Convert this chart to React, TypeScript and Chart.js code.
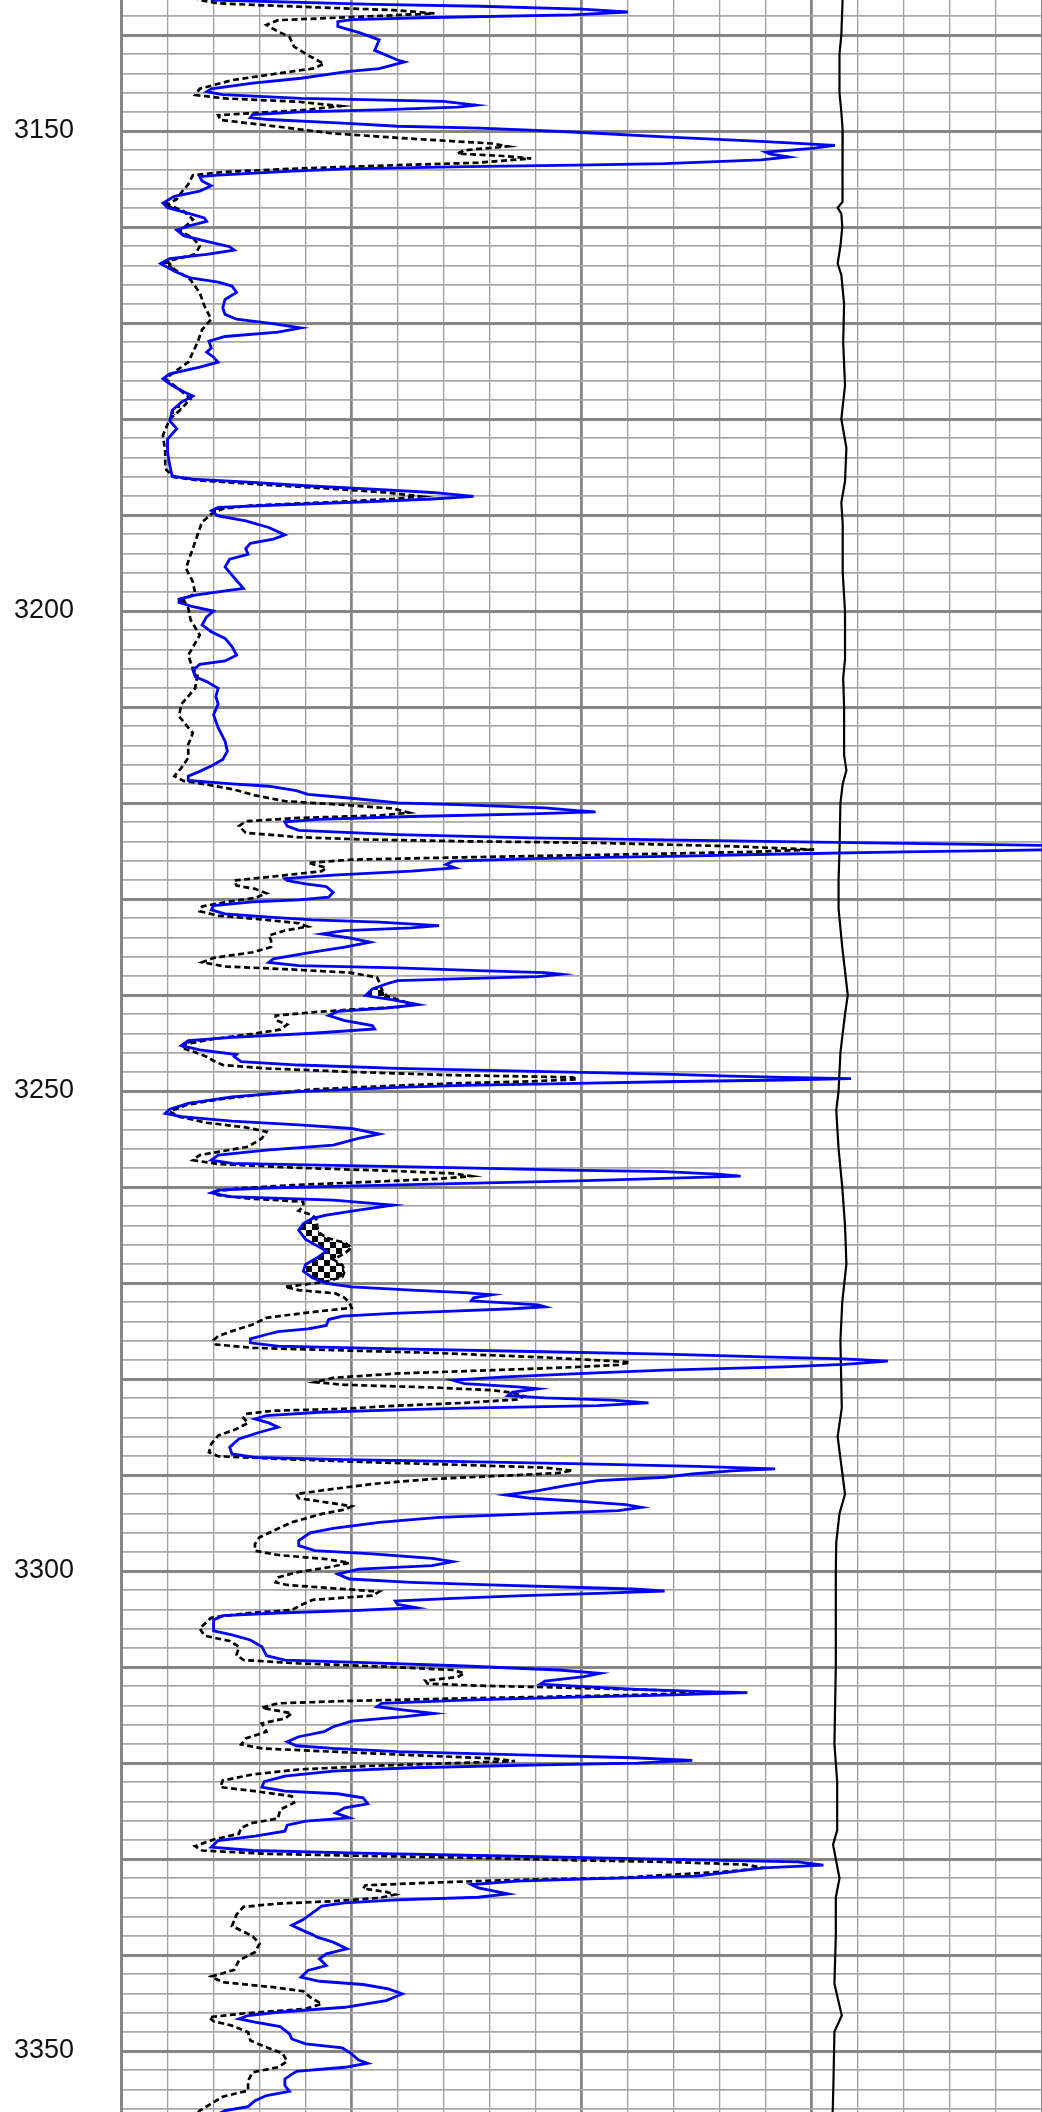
import React, { useEffect, useRef } from 'react';
import { Chart, registerables } from 'chart.js';

Chart.register(...registerables);

// ---- axis ranges / labels ----
const DEPTH_TOP = 3136.35;
const DEPTH_BOTTOM = 3356.35;
const DEPTH_LABELS = [3150, 3200, 3250, 3300, 3350];
const TRACK_MIN = 0;
const TRACK_MAX = 20;

// ---- blue solid curve ----
const blueDepth = [
  3136.0, 3136.35, 3136.8, 3137.0, 3137.3, 3137.6, 3137.9, 3138.2, 3138.4, 3138.6, 3139.1, 3139.8, 3140.5, 3141.6, 3142.6, 3142.8,
  3143.5, 3143.8, 3144.5, 3145.0, 3145.6, 3145.9, 3146.2, 3146.6, 3146.7, 3146.9, 3147.3, 3147.5, 3147.8, 3148.0, 3148.3, 3148.6,
  3148.8, 3149.2, 3149.5, 3149.7, 3150.1, 3150.6, 3151.1, 3151.5, 3151.8, 3152.2, 3152.4, 3152.7, 3153.0, 3153.4, 3153.55, 3153.7,
  3153.95, 3154.2, 3154.6, 3154.75, 3155.2, 3155.7, 3156.25, 3156.8, 3157.5, 3158.0, 3158.5, 3159.05, 3159.4, 3159.9, 3160.3, 3160.9,
  3161.5, 3162.05, 3162.4, 3162.85, 3163.3, 3163.8, 3164.6, 3165.3, 3165.75, 3166.15, 3166.8, 3167.55, 3168.4, 3169.1, 3169.6, 3170.0,
  3170.5, 3170.95, 3171.4, 3171.9, 3172.6, 3173.04, 3173.56, 3174.08, 3174.6, 3175.3, 3175.8, 3176.5, 3177.15, 3177.6, 3178.25, 3179.1,
  3180.2, 3181.0, 3182.1, 3183.45, 3184.85, 3185.95, 3186.25, 3186.6, 3186.95, 3187.3, 3187.65, 3188.05, 3188.33, 3188.6, 3188.9, 3189.2,
  3189.55, 3190.1, 3190.6, 3191.3, 3192.07, 3192.5, 3192.95, 3193.5, 3194.1, 3194.6, 3195.4, 3196.25, 3197.1, 3197.65, 3198.0, 3198.35,
  3198.75, 3199.1, 3199.55, 3200.0, 3200.6, 3201.45, 3202.15, 3202.85, 3203.7, 3204.6, 3205.2, 3205.55, 3206.15, 3206.85, 3207.35, 3208.05,
  3208.9, 3209.7, 3210.8, 3212.15, 3213.55, 3214.6, 3215.45, 3216.15, 3216.7, 3217.2, 3217.65, 3218.0, 3218.25, 3218.7, 3219.1, 3219.5,
  3219.98, 3220.2, 3220.5, 3220.8, 3220.92, 3221.13, 3221.4, 3221.7, 3221.96, 3222.4, 3222.85, 3223.3, 3223.63, 3223.84, 3224.05, 3224.25,
  3224.45, 3224.6, 3224.8, 3224.95, 3225.08, 3225.36, 3225.54, 3225.78, 3226.06, 3226.4, 3226.75, 3227.1, 3227.5, 3227.87, 3228.07, 3228.42,
  3228.7, 3229.3, 3229.8, 3230.08, 3230.3, 3230.68, 3231.13, 3231.55, 3231.9, 3232.17, 3232.4, 3232.76, 3233.0, 3233.28, 3233.63, 3234.05,
  3234.5, 3235.0, 3235.54, 3236.24, 3236.6, 3236.93, 3237.17, 3237.45, 3237.66, 3237.83, 3238.08, 3238.28, 3238.5, 3238.85, 3239.36, 3240.06,
  3240.5, 3241.0, 3241.35, 3241.7, 3242.14, 3242.66, 3243.18, 3243.53, 3243.98, 3244.4, 3244.75, 3245.27, 3245.72, 3246.2, 3246.42, 3246.94,
  3247.29, 3247.64, 3247.98, 3248.23, 3248.44, 3248.57, 3248.71, 3248.85, 3249.03, 3249.2, 3249.4, 3249.62, 3250.07, 3250.6, 3251.28, 3251.9,
  3252.33, 3252.67, 3253.13, 3253.54, 3253.9, 3254.48, 3254.93, 3255.63, 3256.15, 3256.67, 3257.2, 3257.54, 3257.75, 3258.0, 3258.23, 3258.4,
  3258.65, 3258.86, 3259.1, 3259.35, 3259.62, 3259.9, 3260.1, 3260.32, 3260.6, 3261.0, 3261.36, 3261.88, 3262.4, 3262.92, 3263.27, 3263.8,
  3264.5, 3265.45, 3265.98, 3266.67, 3267.37, 3268.06, 3268.76, 3269.45, 3270.04, 3270.39, 3270.74, 3271.0, 3271.22, 3271.54, 3271.85, 3272.06,
  3272.27, 3272.47, 3272.68, 3272.93, 3273.17, 3273.45, 3273.8, 3274.42, 3274.77, 3275.05, 3275.36, 3275.81, 3276.23, 3276.57, 3276.85, 3277.13,
  3277.41, 3277.69, 3277.9, 3278.14, 3278.48, 3278.73, 3279.08, 3279.42, 3279.77, 3280.12, 3280.47, 3280.81, 3281.02, 3281.37, 3281.72, 3281.96,
  3282.2, 3282.48, 3282.76, 3283.04, 3283.21, 3283.46, 3283.8, 3284.15, 3284.57, 3285.02, 3285.54, 3286.24, 3287.1, 3287.8, 3288.15, 3288.39,
  3288.6, 3288.84, 3289.09, 3289.36, 3289.57, 3289.89, 3290.23, 3290.58, 3291.1, 3291.62, 3292.07, 3292.42, 3292.77, 3293.08, 3293.36, 3293.71,
  3294.05, 3294.4, 3294.92, 3295.55, 3296.03, 3296.83, 3297.35, 3297.88, 3298.22, 3298.68, 3299.02, 3299.44, 3299.79, 3300.31, 3300.83, 3301.18,
  3301.45, 3301.66, 3301.87, 3302.08, 3302.32, 3302.56, 3302.84, 3303.12, 3303.47, 3303.81, 3304.09, 3304.37, 3304.65, 3305.1, 3306.24, 3306.66,
  3307.18, 3307.88, 3308.82, 3309.27, 3309.55, 3309.89, 3310.31, 3310.66, 3311.0, 3311.46, 3311.77, 3312.05, 3312.33, 3312.57, 3312.67, 3312.92,
  3313.16, 3313.44, 3313.78, 3314.13, 3314.48, 3314.83, 3315.17, 3315.63, 3316.22, 3316.74, 3317.26, 3317.78, 3318.2, 3318.48, 3318.82, 3319.17,
  3319.45, 3319.73, 3320.01, 3320.22, 3320.49, 3320.84, 3321.36, 3321.95, 3322.51, 3322.93, 3323.2, 3323.62, 3324.25, 3324.66, 3325.19, 3325.71,
  3326.05, 3326.47, 3327.1, 3327.62, 3328.07, 3328.76, 3329.11, 3329.39, 3329.63, 3329.88, 3330.08, 3330.29, 3330.64, 3330.92, 3331.34, 3331.79,
  3332.03, 3332.31, 3332.66, 3333.0, 3333.63, 3333.98, 3334.25, 3334.57, 3334.91, 3335.61, 3336.3, 3336.9, 3337.35, 3337.87, 3338.14, 3338.66,
  3339.36, 3339.88, 3340.4, 3341.09, 3341.61, 3342.31, 3342.73, 3343.07, 3343.53, 3344.05, 3344.74, 3345.44, 3345.96, 3346.3, 3346.65, 3347.0,
  3347.45, 3348.22, 3348.74, 3349.26, 3349.68, 3350.3, 3350.93, 3351.27, 3351.69, 3352.11, 3352.9, 3353.6, 3354.19, 3354.64, 3355.17, 3355.79,
  3356.21, 3356.8,
];
const blueValue = [
  1.8, 2.0, 5.5, 7.8, 10.0, 11.0, 9.8, 6.5, 5.0, 4.7, 4.7, 5.2, 5.6, 5.5, 6.0, 6.15,
  5.6, 4.9, 3.9, 2.85, 1.95, 1.85, 2.2, 3.9, 5.0, 7.0, 7.7, 7.3, 5.6, 3.9, 2.85, 2.8,
  3.2, 4.9, 6.0, 7.8, 9.8, 11.8, 14.0, 15.5, 15.0, 14.0, 14.1, 14.5, 13.9, 11.8, 9.9, 7.5,
  4.9, 3.6, 2.1, 1.7, 1.75, 1.95, 1.7, 1.15, 0.9, 1.0, 1.4, 1.8, 1.85, 1.45, 1.2, 1.35,
  1.85, 2.35, 2.45, 1.85, 1.05, 0.85, 1.15, 1.5, 2.1, 2.4, 2.5, 2.25, 2.2, 2.25, 2.5, 3.2,
  3.9, 3.4, 2.25, 1.9, 1.95, 1.85, 2.0, 2.1, 1.7, 1.05, 0.9, 1.1, 1.35, 1.55, 1.3, 1.1,
  1.05, 1.2, 1.0, 1.0, 1.05, 1.1, 1.55, 2.85, 4.0, 5.45, 6.75, 7.65, 6.75, 5.45, 3.7, 2.1,
  1.95, 2.1, 2.7, 3.2, 3.55, 3.3, 2.8, 2.7, 2.75, 2.35, 2.25, 2.4, 2.55, 2.65, 2.1, 1.6,
  1.25, 1.25, 1.55, 2.0, 1.85, 1.75, 1.95, 2.25, 2.4, 2.5, 2.25, 1.7, 1.55, 1.6, 1.85, 2.1,
  2.05, 2.1, 2.0, 2.1, 2.25, 2.3, 2.2, 1.95, 1.7, 1.45, 1.45, 2.4, 3.2, 3.8, 4.05, 5.0,
  6.0, 7.45, 9.2, 9.9, 10.3, 8.9, 6.3, 4.3, 3.55, 3.6, 3.85, 6.0, 8.9, 11.8, 14.7, 17.85,
  20.5, 21.5, 21.0, 19.0, 17.0, 13.8, 12.2, 8.9, 7.2, 7.05, 7.25, 6.3, 4.6, 3.55, 3.6, 4.0,
  4.45, 4.6, 4.5, 3.85, 2.85, 2.0, 1.95, 2.25, 3.3, 4.15, 5.6, 6.9, 6.3, 4.85, 4.35, 4.95,
  5.4, 4.85, 4.15, 3.3, 3.2, 3.85, 6.0, 7.75, 9.2, 9.55, 9.05, 7.45, 6.0, 5.75, 5.45, 5.3,
  5.9, 6.45, 5.75, 4.7, 4.5, 4.85, 5.45, 5.5, 4.15, 2.4, 1.45, 1.3, 1.7, 2.5, 2.45, 2.6,
  3.85, 6.0, 9.2, 11.8, 13.25, 14.4, 15.85, 14.4, 11.8, 9.9, 7.45, 6.0, 3.85, 2.4, 1.45, 1.05,
  0.95, 1.3, 2.4, 3.95, 5.0, 5.6, 5.15, 4.6, 3.15, 2.1, 1.95, 2.4, 4.6, 7.45, 9.65, 11.8,
  12.95, 13.45, 11.8, 9.9, 7.45, 4.85, 3.15, 2.1, 1.95, 2.35, 4.6, 5.9, 5.15, 4.45, 4.15, 3.95,
  3.85, 4.0, 4.2, 4.45, 4.25, 4.0, 3.95, 4.15, 4.45, 5.0, 6.3, 7.45, 8.05, 7.65, 7.6, 8.35,
  9.05, 9.2, 8.5, 7.2, 5.9, 4.8, 4.5, 4.45, 4.05, 3.4, 3.15, 2.8, 2.8, 3.4, 6.0, 8.9,
  11.8, 13.95, 15.7, 16.65, 15.7, 14.4, 11.8, 10.05, 8.35, 7.2, 7.45, 8.6, 9.05, 8.5, 8.4, 9.2,
  10.65, 11.45, 10.35, 7.45, 6.0, 4.3, 3.15, 2.9, 3.2, 3.4, 3.0, 2.55, 2.35, 2.4, 2.9, 4.85,
  7.45, 10.05, 12.5, 14.2, 13.25, 12.4, 11.8, 10.35, 9.65, 9.05, 8.35, 8.9, 10.05, 10.95, 11.3, 10.8,
  8.9, 6.9, 5.6, 4.6, 4.1, 3.85, 3.85, 4.2, 5.45, 6.75, 7.2, 6.75, 5.15, 4.7, 4.95, 6.3,
  8.0, 9.6, 11.1, 11.8, 10.35, 8.75, 7.2, 5.95, 6.0, 6.4, 5.15, 3.4, 2.2, 2.0, 2.0, 2.4,
  2.8, 3.05, 3.15, 3.55, 5.3, 7.45, 9.5, 10.4, 10.05, 9.2, 9.1, 10.05, 11.2, 12.65, 13.6, 11.8,
  9.65, 7.45, 5.65, 5.55, 6.15, 6.8, 6.15, 5.0, 4.6, 4.4, 3.85, 3.6, 3.8, 4.6, 6.0, 8.9,
  11.1, 12.4, 11.2, 8.9, 6.3, 4.6, 3.55, 3.1, 3.05, 3.55, 4.7, 5.25, 5.35, 4.85, 4.65, 4.95,
  4.0, 3.6, 3.55, 2.9, 2.1, 1.95, 2.85, 5.15, 7.75, 10.35, 12.5, 14.7, 15.25, 13.95, 13.25, 12.5,
  10.35, 8.6, 7.6, 7.75, 8.4, 7.75, 6.0, 4.85, 4.35, 4.15, 3.95, 3.7, 3.9, 4.15, 4.25, 4.6,
  4.9, 4.45, 4.3, 4.45, 4.05, 3.9, 4.3, 5.25, 5.8, 6.1, 5.75, 4.85, 3.4, 2.75, 2.55, 2.9,
  3.45, 3.65, 3.7, 4.0, 4.8, 5.0, 5.15, 5.35, 4.85, 3.8, 3.55, 3.55, 3.65, 3.15, 2.9, 2.75,
  2.25, 2.0,
];

// ---- black dashed curve ----
const dashDepth = [
  3136.0, 3136.35, 3136.7, 3137.05, 3137.4, 3137.75, 3138.1, 3138.45, 3138.95, 3139.5, 3140.2, 3141.2, 3142.1, 3143.0, 3143.5, 3144.0,
  3144.7, 3145.6, 3146.25, 3146.6, 3146.95, 3147.4, 3147.8, 3148.35, 3148.85, 3149.4, 3150.25, 3150.8, 3151.3, 3151.6, 3152.0, 3152.35,
  3152.6, 3152.85, 3153.3, 3153.55, 3153.9, 3154.25, 3154.6, 3155.55, 3156.4, 3157.1, 3157.65, 3158.35, 3159.2, 3159.9, 3160.4, 3161.1,
  3162.0, 3162.85, 3163.55, 3164.4, 3165.5, 3166.85, 3168.2, 3169.6, 3170.7, 3172.05, 3173.04, 3174.08, 3175.1, 3175.8, 3176.7, 3177.9,
  3178.95, 3180.0, 3181.7, 3183.45, 3185.2, 3186.05, 3186.4, 3186.85, 3187.3, 3187.65, 3188.05, 3188.33, 3188.65, 3189.0, 3189.35, 3189.9,
  3190.75, 3191.4, 3192.8, 3194.15, 3195.55, 3196.95, 3198.15, 3198.85, 3199.7, 3200.9, 3202.5, 3203.35, 3204.6, 3206.0, 3206.7, 3208.05,
  3209.7, 3210.95, 3212.15, 3212.7, 3213.9, 3215.3, 3216.33, 3217.2, 3217.7, 3218.07, 3218.6, 3219.2, 3219.8, 3220.2, 3220.57, 3221.0,
  3221.3, 3221.55, 3221.9, 3222.4, 3223.1, 3223.56, 3223.8, 3223.98, 3224.15, 3224.5, 3224.85, 3225.1, 3225.36, 3225.65, 3225.9, 3226.23,
  3226.75, 3227.1, 3227.6, 3228.07, 3228.6, 3228.94, 3229.4, 3229.88, 3230.33, 3230.78, 3231.27, 3231.72, 3232.17, 3232.52, 3232.87, 3233.28,
  3233.8, 3234.32, 3235.0, 3235.54, 3236.13, 3236.58, 3237.03, 3237.3, 3237.66, 3238.15, 3238.67, 3239.36, 3240.06, 3240.4, 3240.93, 3241.27,
  3241.5, 3241.8, 3242.14, 3242.6, 3243.08, 3243.6, 3244.05, 3244.57, 3245.1, 3245.5, 3245.96, 3246.42, 3246.84, 3247.29, 3247.64, 3247.98,
  3248.33, 3248.57, 3248.78, 3248.99, 3249.2, 3249.48, 3249.83, 3250.31, 3250.87, 3251.46, 3252.15, 3252.67, 3253.3, 3253.79, 3254.24, 3254.93,
  3255.8, 3256.67, 3257.2, 3257.6, 3258.0, 3258.34, 3258.58, 3258.86, 3259.14, 3259.45, 3259.8, 3260.14, 3260.49, 3260.84, 3261.19, 3261.53,
  3262.05, 3262.47, 3262.92, 3263.45, 3264.14, 3264.76, 3265.28, 3265.8, 3266.32, 3266.91, 3267.54, 3268.13, 3268.76, 3269.35, 3269.8, 3270.15,
  3270.39, 3270.74, 3271.08, 3271.54, 3272.06, 3272.58, 3273.1, 3273.62, 3274.32, 3275.01, 3275.53, 3275.95, 3276.4, 3276.75, 3276.99, 3277.27,
  3277.69, 3277.96, 3278.24, 3278.52, 3278.8, 3279.08, 3279.42, 3279.87, 3280.33, 3280.6, 3280.88, 3281.16, 3281.44, 3281.79, 3282.13, 3282.48,
  3282.83, 3283.1, 3283.3, 3283.63, 3284.08, 3284.57, 3285.2, 3285.89, 3286.76, 3287.63, 3288.04, 3288.32, 3288.67, 3288.95, 3289.23, 3289.54,
  3289.78, 3290.06, 3290.41, 3290.93, 3291.45, 3291.97, 3292.42, 3292.84, 3293.26, 3293.6, 3294.05, 3294.92, 3295.69, 3296.49, 3297.18, 3297.88,
  3298.33, 3298.75, 3299.16, 3299.61, 3300.14, 3300.66, 3301.18, 3301.45, 3301.8, 3302.14, 3302.56, 3303.01, 3303.53, 3304.06, 3304.4, 3304.86,
  3305.97, 3306.73, 3307.29, 3307.88, 3308.75, 3309.27, 3309.62, 3309.96, 3310.31, 3310.66, 3311.04, 3311.42, 3311.73, 3311.94, 3312.15, 3312.43,
  3312.74, 3312.99, 3313.26, 3313.54, 3313.78, 3314.24, 3314.83, 3315.35, 3315.87, 3316.74, 3317.43, 3318.06, 3318.48, 3318.82, 3319.17, 3319.52,
  3319.8, 3320.01, 3320.32, 3320.67, 3321.19, 3321.82, 3322.51, 3322.93, 3323.45, 3324.14, 3324.84, 3325.78, 3326.23, 3326.75, 3327.37, 3327.97,
  3328.66, 3329.11, 3329.46, 3329.67, 3329.88, 3330.15, 3330.29, 3330.57, 3330.92, 3331.27, 3331.68, 3331.96, 3332.13, 3332.38, 3332.73, 3333.07,
  3333.42, 3333.7, 3334.05, 3334.39, 3334.64, 3334.98, 3335.78, 3336.98, 3338.04, 3338.83, 3339.7, 3340.57, 3341.54, 3342.24, 3342.83, 3343.35,
  3343.77, 3344.39, 3345.09, 3345.61, 3346.06, 3346.48, 3346.9, 3347.35, 3348.04, 3348.91, 3349.61, 3350.23, 3351.07, 3351.69, 3352.21, 3353.08,
  3354.12, 3354.75, 3355.34, 3356.21, 3356.8,
];
const dashValue = [
  1.55, 1.7, 2.1, 3.85, 5.9, 6.8, 5.15, 3.4, 3.15, 3.35, 3.65, 3.75, 4.05, 4.4, 4.15, 3.4,
  2.4, 1.7, 1.6, 2.25, 3.85, 4.75, 4.0, 2.1, 2.15, 3.15, 4.6, 6.3, 8.05, 8.4, 7.45, 7.3,
  8.3, 8.9, 7.75, 6.0, 3.85, 2.25, 1.55, 1.45, 1.3, 1.2, 1.0, 1.35, 1.55, 1.4, 1.25, 1.55,
  1.7, 1.6, 1.0, 1.15, 1.5, 1.7, 1.8, 1.95, 1.75, 1.65, 1.55, 1.45, 1.15, 0.95, 1.2, 1.5,
  1.3, 1.05, 0.9, 0.95, 0.95, 1.15, 1.7, 3.15, 4.7, 5.75, 6.5, 5.9, 4.6, 2.85, 2.2, 1.95,
  1.75, 1.7, 1.6, 1.5, 1.4, 1.55, 1.6, 1.35, 1.45, 1.5, 1.7, 1.6, 1.45, 1.55, 1.65, 1.6,
  1.3, 1.25, 1.45, 1.55, 1.45, 1.45, 1.3, 1.15, 1.35, 1.85, 2.45, 2.9, 3.55, 4.85, 5.9, 6.25,
  5.6, 3.85, 2.7, 2.55, 2.7, 3.85, 5.3, 7.45, 10.35, 13.25, 15.05, 13.55, 10.8, 7.45, 5.0, 4.05,
  4.45, 4.35, 3.4, 2.45, 2.5, 2.9, 3.15, 2.9, 2.25, 1.75, 1.7, 2.1, 3.15, 3.85, 4.05, 3.55,
  3.2, 3.25, 3.25, 2.85, 2.0, 1.75, 2.25, 3.55, 4.95, 5.55, 5.6, 5.65, 5.75, 5.95, 6.3, 6.0,
  5.0, 4.15, 3.35, 3.35, 3.6, 3.45, 2.85, 2.0, 1.4, 1.3, 1.6, 1.85, 2.0, 2.2, 3.15, 4.85,
  7.05, 9.8, 9.9, 8.9, 7.2, 5.75, 4.15, 3.15, 2.1, 1.4, 1.05, 1.25, 1.85, 2.7, 3.15, 3.05,
  2.75, 1.7, 1.55, 2.1, 3.85, 6.0, 7.2, 7.6, 6.9, 5.45, 3.7, 2.55, 2.0, 2.1, 2.75, 3.95,
  3.95, 3.85, 4.15, 4.25, 4.25, 4.3, 4.45, 4.85, 5.0, 4.85, 4.6, 4.8, 4.85, 4.8, 4.5, 4.0,
  3.55, 3.85, 4.65, 4.85, 4.95, 5.0, 4.0, 3.15, 2.85, 2.4, 2.1, 2.0, 2.05, 2.85, 4.6, 6.75,
  8.9, 10.05, 11.05, 10.8, 9.65, 8.05, 6.0, 4.6, 4.2, 4.85, 6.75, 8.05, 8.5, 8.75, 8.6, 7.45,
  5.75, 4.85, 3.3, 2.7, 2.65, 2.75, 2.5, 2.1, 1.95, 1.9, 2.1, 3.4, 5.45, 7.45, 9.2, 9.8,
  9.5, 8.35, 6.75, 5.45, 4.6, 3.8, 3.85, 4.45, 5.0, 4.85, 4.35, 3.7, 3.35, 3.0, 2.9, 2.9,
  3.4, 4.45, 4.95, 4.5, 3.8, 3.4, 3.35, 3.6, 4.6, 5.6, 5.45, 4.15, 3.9, 3.7, 2.7, 1.95,
  1.7, 1.8, 2.35, 2.55, 2.5, 2.65, 3.85, 5.75, 7.2, 7.45, 7.3, 6.6, 6.65, 7.75, 9.65, 11.8,
  12.5, 10.35, 7.45, 4.85, 3.4, 3.05, 3.7, 3.55, 3.05, 3.15, 2.7, 2.6, 3.05, 4.6, 6.3, 8.05,
  8.55, 7.2, 5.3, 3.85, 2.85, 2.2, 2.15, 2.9, 3.7, 3.75, 3.45, 3.4, 2.85, 2.6, 2.55, 2.0,
  1.6, 1.75, 3.15, 5.3, 7.75, 10.05, 11.8, 13.55, 13.95, 13.25, 11.8, 10.8, 8.9, 7.2, 5.3, 5.25,
  5.75, 5.95, 5.6, 4.6, 3.4, 2.65, 2.5, 2.4, 2.85, 3.0, 2.9, 2.55, 2.45, 1.95, 2.2, 3.3,
  3.95, 4.1, 4.35, 4.0, 2.7, 1.9, 2.0, 2.4, 2.75, 2.8, 3.15, 3.5, 3.6, 3.4, 2.85, 2.75,
  2.75, 2.2, 2.0, 1.7, 1.6,
];

// ---- black solid curve ----
const solidDepth = [
  3136.0, 3140, 3142, 3146, 3148, 3150, 3154, 3157.4, 3158.0, 3158.6, 3160, 3162, 3163.8, 3165, 3168, 3172,
  3176.5, 3180, 3183, 3186.5, 3188.7, 3191, 3196, 3200, 3205, 3207, 3210, 3215, 3216.6, 3218, 3220, 3225,
  3228, 3231, 3235, 3240, 3242, 3246, 3250, 3252, 3256, 3260, 3264, 3268, 3272, 3276, 3283, 3286,
  3292, 3294, 3297, 3300, 3310, 3318, 3322, 3327, 3328.5, 3332, 3334, 3338, 3343, 3346.3, 3348, 3353,
  3356.8,
];
const solidValue = [
  15.67, 15.64, 15.6, 15.6, 15.64, 15.67, 15.67, 15.66, 15.56, 15.64, 15.66, 15.62, 15.56, 15.64, 15.7, 15.68,
  15.72, 15.64, 15.75, 15.72, 15.64, 15.67, 15.67, 15.72, 15.72, 15.68, 15.7, 15.7, 15.75, 15.67, 15.62, 15.6,
  15.58, 15.58, 15.66, 15.78, 15.72, 15.62, 15.58, 15.53, 15.58, 15.66, 15.72, 15.75, 15.66, 15.62, 15.65, 15.56,
  15.72, 15.6, 15.53, 15.52, 15.52, 15.49, 15.55, 15.55, 15.46, 15.6, 15.52, 15.52, 15.49, 15.65, 15.49, 15.47,
  15.45,
];

const GRID_MINOR_H = '#a9a9a9';
const GRID_MINOR_V = '#9c9c9c';
const GRID_MAJOR = '#858585';

function interp(ds: number[], vs: number[], d: number): number {
  if (d <= ds[0]) return vs[0];
  if (d >= ds[ds.length - 1]) return vs[vs.length - 1];
  let lo = 0;
  let hi = ds.length - 1;
  while (hi - lo > 1) {
    const mid = (lo + hi) >> 1;
    if (ds[mid] <= d) lo = mid;
    else hi = mid;
  }
  const t = (d - ds[lo]) / (ds[hi] - ds[lo]);
  return vs[lo] + t * (vs[hi] - vs[lo]);
}

function makeChecker(ctx: CanvasRenderingContext2D) {
  const c = document.createElement('canvas');
  const s = 6;
  c.width = s * 2;
  c.height = s * 2;
  const g = c.getContext('2d')!;
  g.fillStyle = '#ffffff';
  g.fillRect(0, 0, s * 2, s * 2);
  g.fillStyle = '#000000';
  g.fillRect(0, 0, s, s);
  g.fillRect(s, s, s, s);
  return ctx.createPattern(c, 'repeat');
}

const crossoverPlugin = {
  id: 'crossoverFill',
  beforeDatasetsDraw(chart: any) {
    const { ctx, chartArea, scales } = chart;
    const xs = scales.x;
    const ys = scales.y;
    const pattern = makeChecker(ctx);
    if (!pattern) return;
    const lo = Math.max(blueDepth[0], dashDepth[0]);
    const hi = Math.min(blueDepth[blueDepth.length - 1], dashDepth[dashDepth.length - 1]);
    const step = 0.02;
    ctx.save();
    ctx.beginPath();
    ctx.rect(chartArea.left, chartArea.top, chartArea.right - chartArea.left, chartArea.bottom - chartArea.top);
    ctx.clip();
    ctx.fillStyle = pattern;
    let run: { d: number; b: number; s: number }[] = [];
    const flush = () => {
      if (run.length > 1) {
        ctx.beginPath();
        run.forEach((p, i) => {
          const px = xs.getPixelForValue(p.s);
          const py = ys.getPixelForValue(p.d);
          if (i === 0) ctx.moveTo(px, py);
          else ctx.lineTo(px, py);
        });
        for (let i = run.length - 1; i >= 0; i--) {
          ctx.lineTo(xs.getPixelForValue(run[i].b), ys.getPixelForValue(run[i].d));
        }
        ctx.closePath();
        ctx.fill();
      }
      run = [];
    };
    for (let d = lo; d <= hi; d += step) {
      const b = interp(blueDepth, blueValue, d);
      const s = interp(dashDepth, dashValue, d);
      if (s > b) {
        run.push({ d, b, s });
      } else {
        if (run.length) run.push({ d, b, s: b });
        flush();
      }
    }
    flush();
    ctx.restore();
  },
};

export default function App() {
  const canvasRef = useRef<HTMLCanvasElement | null>(null);

  useEffect(() => {
    const canvas = canvasRef.current;
    if (!canvas) return;
    const chart = new Chart(canvas, {
      type: 'line',
      data: {
        datasets: [
          {
            label: 'Blue',
            data: blueDepth.map((d, i) => ({ x: blueValue[i], y: d })),
            borderColor: '#0000ff',
            borderWidth: 2.8,
            pointRadius: 0,
            fill: false,
            tension: 0,
          },
          {
            label: 'Dashed',
            data: dashDepth.map((d, i) => ({ x: dashValue[i], y: d })),
            borderColor: '#000000',
            borderWidth: 2.7,
            borderDash: [6, 3.5],
            pointRadius: 0,
            fill: false,
            tension: 0,
          },
          {
            label: 'Solid',
            data: solidDepth.map((d, i) => ({ x: solidValue[i], y: d })),
            borderColor: '#000000',
            borderWidth: 2.2,
            pointRadius: 0,
            fill: false,
            tension: 0,
          },
        ],
      },
      options: {
        animation: false,
        responsive: true,
        maintainAspectRatio: false,
        indexAxis: 'y',
        layout: { padding: { left: 14, top: 0, right: 0, bottom: 0 } },
        plugins: {
          legend: { display: false },
          tooltip: { enabled: false },
        },
        scales: {
          x: {
            type: 'linear',
            position: 'bottom',
            min: TRACK_MIN,
            max: TRACK_MAX,
            ticks: { display: false, stepSize: 1, autoSkip: false },
            grid: {
              drawTicks: false,
              color: (c: any) => (c.tick && c.tick.value % 5 === 0 ? GRID_MAJOR : GRID_MINOR_V),
              lineWidth: (c: any) => (c.tick && c.tick.value % 5 === 0 ? 2.8 : 1.3),
            },
            border: { display: false },
          },
          y: {
            type: 'linear',
            position: 'left',
            reverse: true,
            min: DEPTH_TOP,
            max: DEPTH_BOTTOM,
            afterBuildTicks: (scale: any) => {
              const ticks: { value: number }[] = [];
              for (let v = Math.ceil(DEPTH_TOP / 2) * 2; v <= DEPTH_BOTTOM; v += 2) ticks.push({ value: v });
              scale.ticks = ticks;
            },
            afterFit: (scale: any) => {
              scale.width = 107.5;
              scale.paddingTop = 0;
              scale.paddingBottom = 0;
            },
            ticks: {
              autoSkip: false,
              crossAlign: 'far',
              padding: 0,
              color: '#111111',
              font: { family: "'Liberation Sans', Arial, sans-serif", size: 27 },
              callback: (v: any) => (DEPTH_LABELS.includes(Number(v)) ? String(v) : ''),
            },
            grid: {
              drawTicks: false,
              color: (c: any) => (c.tick && c.tick.value % 10 === 0 ? GRID_MAJOR : GRID_MINOR_H),
              lineWidth: (c: any) => (c.tick && c.tick.value % 10 === 0 ? 3 : 1.8),
            },
            border: { display: true, color: GRID_MAJOR, width: 3 },
          },
        },
      },
      plugins: [crossoverPlugin],
    } as any);
    return () => chart.destroy();
  }, []);

  return (
    <div style={{ position: 'absolute', left: 0, top: 0, width: 1042, height: 2112, background: '#ffffff' }}>
      <canvas ref={canvasRef} />
    </div>
  );
}
